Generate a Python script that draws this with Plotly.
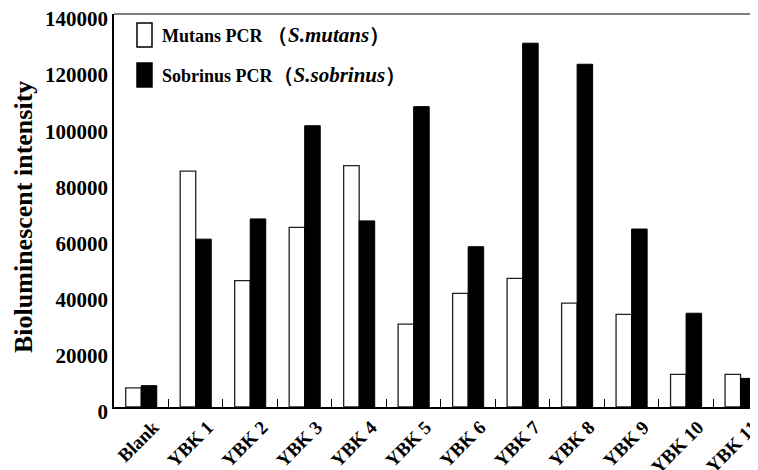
import plotly.graph_objects as go

categories = ["Blank", "YBK 1", "YBK 2", "YBK 3", "YBK 4", "YBK 5", "YBK 6",
              "YBK 7", "YBK 8", "YBK 9", "YBK 10", "YBK 11"]
mutans = [6800, 84000, 45000, 64000, 86000, 29500, 40500, 45800, 37000, 33000, 11600, 11600]
sobrinus = [7600, 59800, 67000, 100200, 66300, 107000, 57100, 129600, 122100, 63400, 33400, 10200]
ytick_vals = [0, 20000, 40000, 60000, 80000, 100000, 120000, 140000]
legend_plain = ["Mutans PCR\u00a0", "Sobrinus PCR"]
legend_species = ["S.mutans", "S.sobrinus"]

FONT = "Liberation Serif, Times New Roman, serif"

fig = go.Figure()
fig.add_trace(go.Bar(x=categories, y=mutans, name=legend_plain[0] + "(" + legend_species[0] + ")",
                     marker=dict(color="white", line=dict(color="#222", width=1.3)),
                     showlegend=False))
fig.add_trace(go.Bar(x=categories, y=sobrinus, name=legend_plain[1] + "(" + legend_species[1] + ")",
                     marker=dict(color="black", line=dict(color="black", width=1)),
                     showlegend=False))

# page body has an 8px default margin: size the figure so it fills the window
OFF = 8
W, H = 758 - OFF, 470 - OFF
plot_l, plot_t, plot_b = 114, 14, 407          # window pixels
ml, mr, mt = plot_l - OFF, 0, plot_t - OFF
mb = H - (plot_b - OFF)
pw, ph = W - ml - mr, H - mt - mb

def px_x(p):
    return (p - plot_l) / pw

def px_y(p):
    return 1 - (p - plot_t) / ph

swatches = [("white", 23, 47), ("black", 63, 87)]
for (fill, y0, y1), plain, sp in zip(swatches, legend_plain, legend_species):
    fig.add_shape(type="rect", xref="paper", yref="paper",
                  x0=px_x(137), x1=px_x(152), y0=px_y(y1), y1=px_y(y0),
                  fillcolor=fill, line=dict(color="black", width=1.5))
    txt = ("<b>" + plain + "</b><span style='font-size:21px'><b>（<i>" + sp +
           "</i>）</b></span>")
    fig.add_annotation(xref="paper", yref="paper", x=px_x(160), y=px_y((y0 + y1) / 2),
                       text=txt, showarrow=False,
                       xanchor="left", yanchor="middle",
                       font=dict(family=FONT, size=18, color="black"))

# y-axis title
fig.add_annotation(xref="paper", yref="paper", x=px_x(23), y=px_y(217),
                   text="<b>Bioluminescent intensity</b>", textangle=-90, showarrow=False,
                   xanchor="center", yanchor="middle",
                   font=dict(family=FONT, size=26, color="black"))

# top border line
fig.add_shape(type="line", xref="paper", yref="paper", x0=0, x1=1, y0=1, y1=1,
              line=dict(color="#555", width=1.5))

fig.update_layout(
    width=W, height=H,
    margin=dict(l=ml, r=mr, t=mt, b=mb, autoexpand=False),
    paper_bgcolor="white", plot_bgcolor="white",
    barmode="group", bargap=0.43, bargroupgap=0,
    font=dict(family=FONT, color="black"),
)
fig.update_xaxes(type="category", range=[-0.5, 11.32], automargin=False,
                 showline=True, linecolor="black", linewidth=1.5,
                 ticks="inside", tickson="boundaries", ticklen=8, tickwidth=1.3, tickcolor="black",
                 tickangle=-45, ticklabelshift=12, ticklabeloverflow="allow",
                 tickfont=dict(family=FONT, size=19, color="black", weight="bold"),
                 showgrid=False, zeroline=False)
fig.update_yaxes(range=[0, 140000], tickvals=ytick_vals, automargin=False,
                 ticktext=[str(v) for v in ytick_vals],
                 showline=True, linecolor="black", linewidth=1.5,
                 ticks="", showgrid=False, zeroline=False, ticklabelshift=5,
                 ticklabeloverflow="allow",
                 tickfont=dict(family=FONT, size=21, color="black", weight="bold"))

fig.write_html("out.html")
